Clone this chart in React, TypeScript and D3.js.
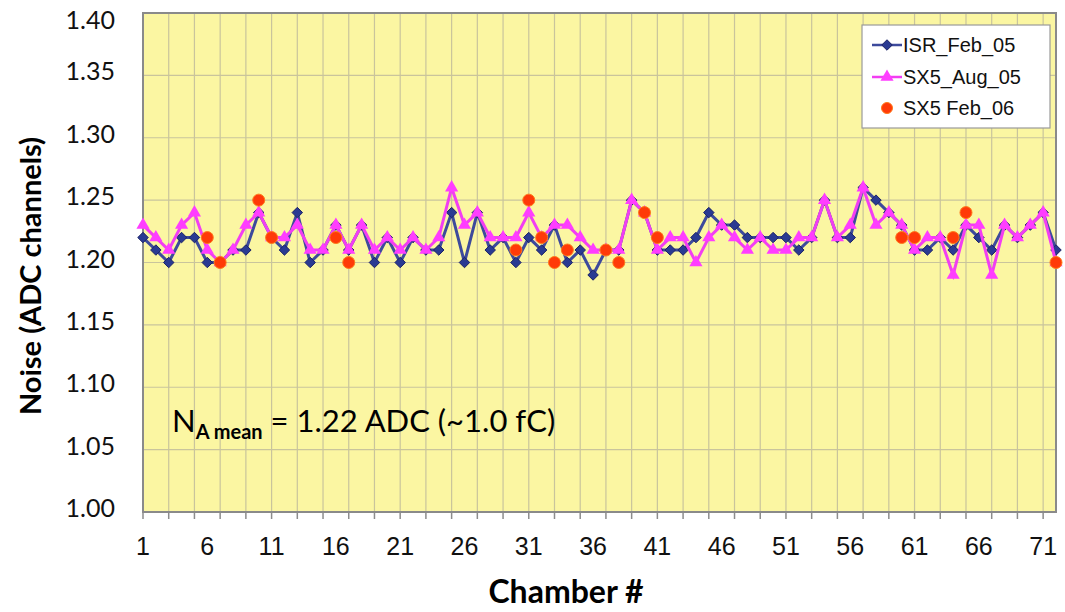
import React, { useRef, useEffect } from 'react';
import * as d3 from 'd3';

// chamber numbers 1..72
const chambers: number[] = d3.range(1, 73);

const isrFeb05: number[] = [
  1.22, 1.21, 1.20, 1.22, 1.22, 1.20, 1.20, 1.21, 1.21, 1.24,
  1.22, 1.21, 1.24, 1.20, 1.21, 1.23, 1.21, 1.23, 1.20, 1.22,
  1.20, 1.22, 1.21, 1.21, 1.24, 1.20, 1.24, 1.21, 1.22, 1.20,
  1.22, 1.21, 1.23, 1.20, 1.21, 1.19, 1.21, 1.21, 1.25, 1.24,
  1.21, 1.21, 1.21, 1.22, 1.24, 1.23, 1.23, 1.22, 1.22, 1.22,
  1.22, 1.21, 1.22, 1.25, 1.22, 1.22, 1.26, 1.25, 1.24, 1.23,
  1.21, 1.21, 1.22, 1.21, 1.23, 1.22, 1.21, 1.23, 1.22, 1.23,
  1.24, 1.21,
];

const sx5Aug05: number[] = [
  1.23, 1.22, 1.21, 1.23, 1.24, 1.21, 1.20, 1.21, 1.23, 1.24,
  1.22, 1.22, 1.23, 1.21, 1.21, 1.23, 1.21, 1.23, 1.21, 1.22,
  1.21, 1.22, 1.21, 1.22, 1.26, 1.23, 1.24, 1.22, 1.22, 1.22,
  1.24, 1.22, 1.23, 1.23, 1.22, 1.21, 1.21, 1.21, 1.25, 1.24,
  1.21, 1.22, 1.22, 1.20, 1.22, 1.23, 1.22, 1.21, 1.22, 1.21,
  1.21, 1.22, 1.22, 1.25, 1.22, 1.23, 1.26, 1.23, 1.24, 1.23,
  1.21, 1.22, 1.22, 1.19, 1.23, 1.23, 1.19, 1.23, 1.22, 1.23,
  1.24, 1.20,
];

// only some chambers measured in Feb 06
const sx5Feb06Chambers: number[] = [6, 7, 10, 11, 16, 17, 30, 31, 32, 33, 34, 37, 38, 40, 41, 60, 61, 64, 65, 72];
const sx5Feb06Values: number[] = [1.22, 1.20, 1.25, 1.22, 1.22, 1.20, 1.21, 1.25, 1.22, 1.20, 1.21, 1.21, 1.20, 1.24, 1.22, 1.22, 1.22, 1.22, 1.24, 1.20];

const yTicks: number[] = [1.0, 1.05, 1.1, 1.15, 1.2, 1.25, 1.3, 1.35, 1.4];
const xLabelChambers: number[] = [1, 6, 11, 16, 21, 26, 31, 36, 41, 46, 51, 56, 61, 66, 71];
const seriesNames: string[] = ['ISR_Feb_05', 'SX5_Aug_05', 'SX5 Feb_06'];

const W = 1065;
const H = 612;
const plot = { left: 143, right: 1056, top: 13, bottom: 512 };

const blueLine = '#3d4a9c';
const blueMark = '#2a3a92';
const pinkLine = '#f23ef2';
const redDot = '#ff3a08';

const App = () => {
  const ref = useRef<SVGSVGElement>(null);

  useEffect(() => {
    const svg = d3.select(ref.current);
    svg.selectAll('*').remove();

    const x = d3.scaleLinear().domain([1, 72]).range([plot.left, plot.right]);
    const y = d3.scaleLinear().domain([1.0, 1.4]).range([plot.bottom, plot.top]);

    svg.append('rect')
      .attr('width', W).attr('height', H).attr('fill', '#ffffff');

    svg.append('rect')
      .attr('x', plot.left).attr('y', plot.top)
      .attr('width', plot.right - plot.left).attr('height', plot.bottom - plot.top)
      .attr('fill', '#fbf6a2');

    // grid
    const grid = svg.append('g').attr('stroke', '#c9c49c').attr('stroke-width', 1.2);
    grid.selectAll('line.h')
      .data(yTicks.slice(1, -1))
      .join('line')
      .attr('class', 'h')
      .attr('x1', plot.left).attr('x2', plot.right)
      .attr('y1', d => y(d)).attr('y2', d => y(d));
    const vTicks = chambers.filter(c => c % 2 === 1);
    grid.selectAll('line.v')
      .data(vTicks.slice(1))
      .join('line')
      .attr('class', 'v')
      .attr('x1', d => x(d)).attr('x2', d => x(d))
      .attr('y1', plot.top).attr('y2', plot.bottom);

    // bottom tick marks
    svg.append('g').attr('stroke', '#8c8c8c').attr('stroke-width', 1.5)
      .selectAll('line')
      .data(vTicks)
      .join('line')
      .attr('x1', d => x(d)).attr('x2', d => x(d))
      .attr('y1', plot.bottom).attr('y2', plot.bottom + 7);

    svg.append('rect')
      .attr('x', plot.left).attr('y', plot.top)
      .attr('width', plot.right - plot.left).attr('height', plot.bottom - plot.top)
      .attr('fill', 'none').attr('stroke', '#8a8a8a').attr('stroke-width', 2);

    // y labels (top one sits a little lower, as in the original)
    svg.append('g')
      .selectAll('text')
      .data(yTicks)
      .join('text')
      .attr('x', 115)
      .attr('y', d => Math.max(y(d) - 4, 20) + 9)
      .attr('text-anchor', 'end')
      .attr('font-family', 'Lato, sans-serif')
      .attr('font-size', 25)
      .attr('fill', '#111')
      .text(d => d.toFixed(2));

    // x labels
    svg.append('g')
      .selectAll('text')
      .data(xLabelChambers)
      .join('text')
      .attr('x', d => x(d))
      .attr('y', 555)
      .attr('text-anchor', 'middle')
      .attr('font-family', '"Liberation Sans", Arial, sans-serif')
      .attr('font-size', 25)
      .attr('fill', '#111')
      .text(d => d);

    svg.append('text')
      .attr('x', 566).attr('y', 603)
      .attr('text-anchor', 'middle')
      .attr('font-family', 'Lato, sans-serif')
      .attr('font-weight', 'bold')
      .attr('font-size', 32)
      .attr('fill', '#000')
      .text('Chamber #');

    svg.append('text')
      .attr('transform', 'translate(41,276) rotate(-90)')
      .attr('text-anchor', 'middle')
      .attr('font-family', 'Lato, sans-serif')
      .attr('font-weight', 'bold')
      .attr('font-size', 29)
      .attr('fill', '#000')
      .text('Noise (ADC channels)');

    // annotation
    const ann = svg.append('text')
      .attr('x', 172).attr('y', 432)
      .attr('font-family', 'Lato, sans-serif')
      .attr('fill', '#000');
    ann.append('tspan').attr('font-size', 31).text('N');
    ann.append('tspan').attr('font-size', 20).attr('font-weight', 'bold').attr('dy', 7).text('A mean');
    ann.append('tspan').attr('font-size', 31).attr('dy', -7).text(' = 1.22 ADC (~1.0 fC)');

    const lineGen = d3.line<number>()
      .x((d, i) => x(chambers[i]))
      .y(d => y(d));

    // ISR_Feb_05
    svg.append('path')
      .attr('d', lineGen(isrFeb05))
      .attr('fill', 'none').attr('stroke', blueLine).attr('stroke-width', 3);
    const diamond = d3.symbol().type(d3.symbolDiamond2).size(70)();
    svg.append('g')
      .selectAll('path')
      .data(isrFeb05)
      .join('path')
      .attr('d', diamond)
      .attr('transform', (d, i) => `translate(${x(chambers[i])},${y(d)})`)
      .attr('fill', blueMark).attr('stroke', '#1c2266').attr('stroke-width', 1);

    // SX5_Aug_05
    svg.append('path')
      .attr('d', lineGen(sx5Aug05))
      .attr('fill', 'none').attr('stroke', pinkLine).attr('stroke-width', 3);
    const tri = d3.symbol().type(d3.symbolTriangle).size(75)();
    svg.append('g')
      .selectAll('path')
      .data(sx5Aug05)
      .join('path')
      .attr('d', tri)
      .attr('transform', (d, i) => `translate(${x(chambers[i])},${y(d)})`)
      .attr('fill', '#ff3dff');

    // SX5 Feb_06
    svg.append('g')
      .selectAll('circle')
      .data(sx5Feb06Values)
      .join('circle')
      .attr('cx', (d, i) => x(sx5Feb06Chambers[i]))
      .attr('cy', d => y(d))
      .attr('r', 6)
      .attr('fill', redDot).attr('stroke', '#ff7a1a').attr('stroke-width', 1);

    // legend
    const lg = svg.append('g').attr('transform', 'translate(862,25)');
    lg.append('rect')
      .attr('width', 188).attr('height', 103)
      .attr('fill', '#fff').attr('stroke', '#9a9a9a').attr('stroke-width', 1.2);
    const rows = [20, 52, 83];
    seriesNames.forEach((name, i) => {
      const ry = rows[i];
      if (i === 0) {
        lg.append('line').attr('x1', 10).attr('x2', 40).attr('y1', ry).attr('y2', ry)
          .attr('stroke', blueLine).attr('stroke-width', 2.5);
        lg.append('path').attr('d', diamond).attr('transform', `translate(25,${ry})`)
          .attr('fill', blueMark).attr('stroke', '#1c2266');
      } else if (i === 1) {
        lg.append('line').attr('x1', 10).attr('x2', 40).attr('y1', ry).attr('y2', ry)
          .attr('stroke', pinkLine).attr('stroke-width', 2.5);
        lg.append('path').attr('d', tri).attr('transform', `translate(25,${ry})`)
          .attr('fill', '#ff3dff');
      } else {
        lg.append('circle').attr('cx', 25).attr('cy', ry).attr('r', 5.5)
          .attr('fill', redDot).attr('stroke', '#ff7a1a');
      }
      lg.append('text')
        .attr('x', 41).attr('y', ry + 7)
        .attr('font-family', '"Liberation Sans", Arial, sans-serif')
        .attr('font-size', 20)
        .attr('fill', '#111')
        .text(name);
    });
  }, []);

  return (
    <div style={{ position: 'absolute', left: 0, top: 0 }}>
      <svg ref={ref} width={W} height={H} style={{ display: 'block' }} />
    </div>
  );
};

export default App;
